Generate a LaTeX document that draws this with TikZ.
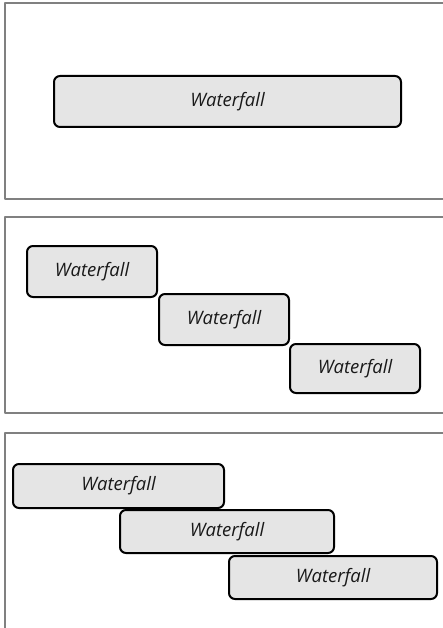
\documentclass[tikz,border=0pt]{standalone}
\usepackage{fontspec}
\setmainfont{Open Sans}
\begin{document}
\begin{tikzpicture}[x=1pt,y=-1pt,line join=round,
	frame/.style={draw=black!50,line width=2pt},
	stage/.style={draw=black,line width=2pt,fill=black!10,rounded corners=6pt,
		inner sep=0pt,text=black!90,font=\fontsize{18.5}{21}\selectfont\itshape}]
			\useasboundingbox (0,0) rectangle (443,628);
			\clip (0,0) rectangle (443,628);
			% three panels, cut off on the right
			\draw[frame] (5,3) rectangle (470,199);
			\draw[frame] (5,217) rectangle (470,413);
			\draw[frame] (5,433) rectangle (470,660);
			% one long phase
			\node[stage,minimum width=347pt,minimum height=51pt] (w) at (227.5,101.5) {Waterfall};
			% phases one after the other
			\node[stage,minimum width=130pt,minimum height=51pt] (a1) at (92,271.5) {Waterfall};
			\node[stage,minimum width=130pt,minimum height=51pt] (a2) at (224,319.5) {Waterfall};
			\node[stage,minimum width=130pt,minimum height=49pt] (a3) at (355,368.5) {Waterfall};
			% overlapping phases
			\node[stage,minimum width=211pt,minimum height=44pt] (b1) at (118.5,486) {Waterfall};
			\node[stage,minimum width=214pt,minimum height=43pt] (b2) at (227,531.5) {Waterfall};
			\node[stage,minimum width=208pt,minimum height=43pt] (b3) at (333,577.5) {Waterfall};
		\end{tikzpicture}
\end{document}
